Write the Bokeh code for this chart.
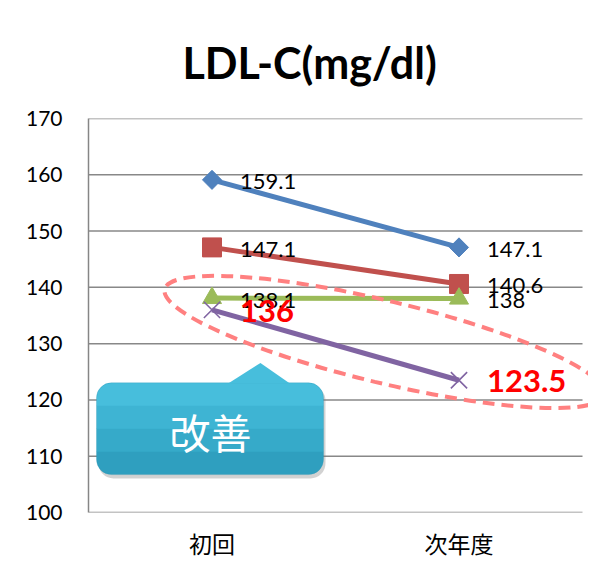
from bokeh.plotting import figure
from bokeh.models import Range1d, FixedTicker, BoxAnnotation, PolyAnnotation, Label
from bokeh.core.properties import value
from bokeh.embed import file_html
from bokeh.resources import INLINE

# ---- data ----
categories = ["初回", "次年度"]
series_blue = [159.1, 147.1]
series_red = [147.1, 140.6]
series_green = [138.1, 138.0]
series_purple = [136.0, 123.5]
y_ticks = [100, 110, 120, 130, 140, 150, 160, 170]
title_text = "LDL-C(mg/dl)"
callout_text = "改善"

xs = [i + 0.5 for i in range(len(categories))]

W, H = 588, 562
FL, FB = 88, 513  # frame left / bottom in canvas px
p = figure(width=W, height=H, output_backend="svg", toolbar_location=None,
           x_range=Range1d(0, (W - FL) / 247), y_range=Range1d(100, 170),
           min_border_left=FL, min_border_right=0, min_border_top=118, min_border_bottom=H - FB,
           title=title_text)

p.title.text_font = "Lato"
p.title.text_font_size = "43px"
p.title.text_font_style = "bold"
p.title.text_color = "black"
p.title.align = "left"
p.title.vertical_align = "top"
p.title.offset = 94
p.title.standoff = 58

p.outline_line_color = None
p.background_fill_color = "white"
p.border_fill_color = "white"

p.xgrid.visible = False
p.ygrid.visible = False

# y axis
p.yaxis.ticker = FixedTicker(ticks=y_ticks)
p.yaxis.major_label_text_font = "Lato"
p.yaxis.major_label_text_font_size = "21px"
p.yaxis.major_label_text_color = "black"
p.yaxis.major_tick_line_color = None
p.yaxis.minor_tick_line_color = None
p.yaxis.major_tick_out = 0
p.yaxis.major_tick_in = 0
p.yaxis.axis_line_color = "#868686"
p.yaxis.axis_line_width = 1.5
p.yaxis.major_label_standoff = 26

# x axis
p.xaxis.ticker = FixedTicker(ticks=xs)
p.xaxis.major_label_overrides = {x: c for x, c in zip(xs, categories)}
p.xaxis.major_label_text_font = "Noto Sans CJK JP"
p.xaxis.major_label_text_font_size = "23px"
p.xaxis.major_label_text_color = "black"
p.xaxis.major_tick_line_color = None
p.xaxis.minor_tick_line_color = None
p.xaxis.major_tick_out = 0
p.xaxis.major_tick_in = 0
p.xaxis.axis_line_color = None
p.xaxis.major_label_standoff = 13

# grid lines (end at the last category band)
p.segment(x0=[0] * len(y_ticks), x1=[len(categories)] * len(y_ticks), y0=y_ticks, y1=y_ticks,
          line_color="#888888", line_width=1.5)

lw = 5
p.line(xs, series_blue, line_color="#4F81BD", line_width=lw)
p.line(xs, series_red, line_color="#C0504D", line_width=lw)
p.line(xs, series_green, line_color="#9BBB59", line_width=lw)
p.line(xs, series_purple, line_color="#8064A2", line_width=lw)

p.scatter(xs, series_blue, marker="square", angle=45, angle_units="deg", size=13.5,
          fill_color="#4F81BD", line_color="#4F81BD")
p.scatter(xs, series_red, marker="square", size=19, fill_color="#C0504D", line_color="#C0504D")
p.scatter(xs, series_green, marker="triangle", size=19, fill_color="#9BBB59", line_color="#9BBB59")
p.scatter(xs, series_purple, marker="x", size=23, line_color="#8064A2", line_width=1.6)


def fmt(v):
    return f"{v:g}"


for ser in (series_blue, series_red, series_green):
    p.text(xs, ser, text=[fmt(v) for v in ser], x_offset=28, y_offset=2,
           text_align="left", text_baseline="middle", text_font=value("Lato"),
           text_font_size="22px", text_color="black")

p.text(xs, series_purple, text=[fmt(v) for v in series_purple], x_offset=28, y_offset=1,
       text_align="left", text_baseline="middle", text_font=value("Lato"),
       text_font_size="31px", text_font_style="bold", text_color="#FF0000")

# dashed highlight ellipse
p.ellipse(x=[1.198], y=[130.3], width=452, height=82, width_units="screen", height_units="screen",
          angle=-13.5, angle_units="deg", fill_color=None, line_color="#FF8080",
          line_width=4, line_dash="12 7")

# callout box (shadow, gradient bands, outline, tab, text)
bl, br, bt, bb = 0.0324, 0.9514, 123.04, 106.74
shadow = BoxAnnotation(left=bl + 0.008, right=br + 0.008, top=bt - 0.5, bottom=bb - 0.7,
                       fill_color="#7f7f7f", fill_alpha=0.35, line_color=None, border_radius=15)
p.add_layout(shadow)
band_colors = ["#47BEDC", "#3EB4D3", "#36AAC9", "#2F9FBF"]
n = len(band_colors)
step = (bt - bb) / n
for i, c in enumerate(band_colors):
    top = bt - i * step
    bot = bt - (i + 1) * step - (0.05 if i < n - 1 else 0)
    if i == 0:
        rad = (15, 15, 0, 0)
    elif i == n - 1:
        rad = (0, 0, 15, 15)
    else:
        rad = 0
    p.add_layout(BoxAnnotation(left=bl, right=br, top=top, bottom=bot, fill_color=c,
                               fill_alpha=1.0, line_color=None, border_radius=rad))
p.add_layout(BoxAnnotation(left=bl, right=br, top=bt, bottom=bb, fill_color=None,
                           line_color="#2C95B2", line_width=1, border_radius=15))
tab = PolyAnnotation(xs=[0.567, 0.696, 0.814], ys=[122.95, 126.58, 122.95], fill_color="#47BEDC",
                     fill_alpha=1.0, line_color=None)
p.add_layout(tab)
lbl = Label(x=0.494, y=114.5, text=callout_text, text_align="center", text_baseline="middle",
            text_color="white", text_font="Noto Sans CJK JP", text_font_size="41px")
p.add_layout(lbl)

open("out.html", "w").write(file_html(p, INLINE))
